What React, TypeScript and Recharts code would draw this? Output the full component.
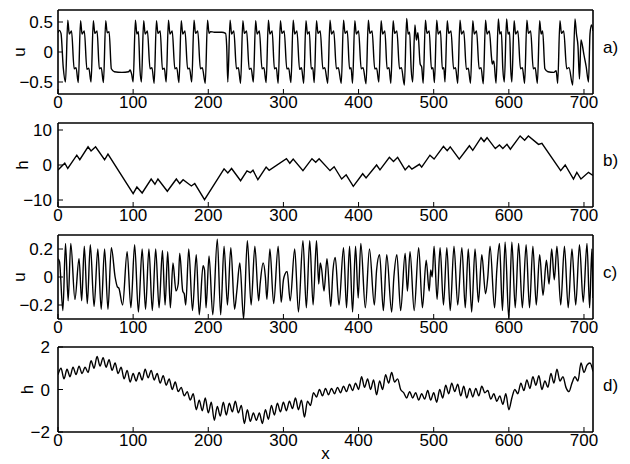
import React from 'react';
import { LineChart, Line, XAxis, YAxis } from 'recharts';

const FONT = '"Liberation Sans", Arial, Helvetica, sans-serif';

const X_TICKS = [0, 100, 200, 300, 400, 500, 600, 700];
const X_DOMAIN: [number, number] = [0, 712];

const A_TICKS = [-0.5, 0, 0.5];
const B_TICKS = [-10, 0, 10];
const C_TICKS = [-0.2, 0, 0.2];
const D_TICKS = [-2, 0, 2];

// panel a) u(x)
const A_POINTS: [number, number][] = [
  [0, 0.32], [2, 0.36], [4, 0.31], [7, -0.26], [10, -0.5],
  [13, 0.53], [15, 0.3], [18, 0.35], [21.5, -0.28], [24, -0.26], [27, -0.51],
  [30, 0.52], [32, 0.3], [35, 0.35], [38.5, -0.29], [41, -0.27], [44, -0.5],
  [47, 0.52], [49, 0.31], [52, 0.35], [55, -0.28], [57.5, -0.26], [60.5, -0.51],
  [63.5, 0.52], [65.5, 0.32], [68, 0.34], [71, -0.28], [75, -0.33], [85, -0.34], [94, -0.33], [96, -0.3], [98, -0.37], [100, -0.5],
  [103, 0.53], [105, 0.3], [107, 0.34], [109, -0.28], [111, -0.5],
  [114, 0.52], [116, 0.3], [119, 0.35], [122.5, -0.28], [125, -0.26], [128, -0.52],
  [131, 0.52], [133, 0.31], [136, 0.35], [139, -0.29], [141.5, -0.27], [144, -0.5],
  [147, 0.53], [149, 0.3], [152, 0.35], [155.5, -0.28], [158, -0.26], [161, -0.51],
  [164, 0.52], [166, 0.3], [169, 0.35], [172.5, -0.28], [175, -0.27], [178, -0.5],
  [181, 0.53], [183, 0.31], [186, 0.35], [189.5, -0.28], [192, -0.26], [196, -0.52],
  [199, 0.53], [201, 0.31], [203, 0.34], [208, 0.33], [218, 0.33], [223, 0.31], [224.5, 0.1], [226, -0.5],
  [229, 0.53], [231, 0.3], [234, 0.35], [237.5, -0.28], [240, -0.26], [243, -0.52],
  [246, 0.52], [248, 0.31], [251, 0.35], [254.5, -0.29], [257, -0.27], [260, -0.5],
  [263, 0.52], [265, 0.3], [268, 0.35], [271.5, -0.28], [274, -0.26], [277, -0.51],
  [280, 0.53], [282, 0.3], [285, 0.35], [288, -0.28], [290.5, -0.26], [293, -0.52],
  [296, 0.52], [298, 0.31], [301, 0.35], [304.5, -0.28], [307, -0.27], [310, -0.51],
  [313, 0.53], [315, 0.3], [318, 0.35], [321.5, -0.29], [324, -0.26], [327, -0.52],
  [330, 0.52], [332, 0.3], [334.5, 0.34], [337, -0.28], [339, -0.26], [341, -0.51],
  [344, 0.52], [346, 0.31], [349, 0.35], [352.5, -0.28], [355, -0.26], [359, -0.52],
  [362, 0.53], [364, 0.3], [367, 0.35], [370.5, -0.28], [373, -0.26], [377, -0.52],
  [380, 0.53], [382, 0.31], [385, 0.35], [388, -0.28], [390, -0.26], [392, -0.52],
  [395, 0.52], [397, 0.3], [400, 0.35], [403.5, -0.28], [406, -0.26], [410, -0.53],
  [413, 0.53], [415, 0.31], [418, 0.35], [421.5, -0.28], [424, -0.27], [427, -0.5],
  [430, 0.52], [432, 0.3], [435, 0.35], [438, -0.28], [440.5, -0.26], [443, -0.52],
  [446, 0.52], [448, 0.31], [451, 0.35], [454.5, -0.28], [457, -0.26], [461, -0.55],
  [464, 0.56], [466, 0.3], [468, 0.33], [470, -0.28], [472, -0.5],
  [475, 0.45], [477, 0.2], [479, 0.32], [482, -0.2], [484, -0.25], [486, -0.52],
  [489, 0.53], [491, 0.31], [494, 0.35], [497, -0.28], [499, -0.26], [501, -0.51],
  [504, 0.53], [506, 0.3], [509, 0.35], [511.5, -0.28], [513.5, -0.26], [515, -0.5],
  [518, 0.52], [520, 0.31], [523, 0.35], [526.5, -0.28], [529, -0.26], [532, -0.52],
  [535, 0.53], [537, 0.3], [540, 0.35], [543.5, -0.29], [546, -0.27], [549, -0.52],
  [552, 0.52], [554, 0.3], [557, 0.35], [560.5, -0.28], [563, -0.26], [566, -0.53],
  [569, 0.53], [571, 0.3], [574, 0.35], [577, -0.1], [578, -0.2], [580, -0.15], [583, -0.52],
  [586, 0.55], [588, 0.3], [590, 0.34], [592, -0.28], [594, -0.5],
  [597, 0.55], [599, 0.3], [601, 0.33], [602.5, -0.28], [604, -0.5],
  [607, 0.52], [609, 0.3], [612, 0.35], [615.5, -0.28], [618, -0.26], [621, -0.52],
  [624, 0.53], [626, 0.31], [629, 0.35], [632.5, -0.28], [635, -0.26], [638, -0.52],
  [641, 0.52], [643, 0.3], [645, 0.35], [648, -0.28], [652, -0.33], [660, -0.34], [663, -0.31], [665, -0.52],
  [668, 0.52], [670, 0.31], [673, 0.35], [677, -0.28], [680, -0.26], [685, -0.55],
  [688, 0.55], [690, 0.3], [692, 0.1], [694, -0.45], [696, 0.2], [698, 0.1], [700, -0.05], [703, -0.25], [706, -0.5], [708, 0.3], [710, 0.45], [712, 0.35],
];

// panel b) h(x)
const B_POINTS: [number, number][] = [
  [0, -1.4], [9, 0.5], [13, -1.0], [25, 2.8], [29, 1.5], [40, 5.2], [44, 4.0], [50, 5.2], [62, 1.5], [66.5, 3.1],
  [100, -8.2], [105, -6.3], [112, -8.0], [124, -4.0], [129, -5.5], [133, -4.0], [145.5, -7.5], [157.5, -4.0],
  [162, -5.3], [166.5, -4.2], [177.5, -6.0], [182, -5.3], [195, -9.9], [221, -1.1], [226, -2.3], [231, -1.0],
  [243, -4.5], [251.5, -1.7], [256, -2.2], [259.5, -1.5], [266, -4.2], [277, -0.6], [281, -1.5], [304, 1.8],
  [308.5, 0.5], [313, 1.7], [326, -1.6], [338, 1.8], [343, 0.8], [347.5, 1.8], [362, -1.6], [367.5, -0.5],
  [377.5, -4.0], [383.5, -2.8], [393, -6.1], [405.5, -2.5], [410, -3.7], [424, 0.0], [428.5, -1.4], [441, 2.2],
  [446.5, 1.0], [452, 2.2], [462, -1.4], [467, -0.2], [471, -1.2], [481, 0.2], [484, -0.6], [495, 2.8],
  [500.5, 1.7], [513, 5.3], [518, 4.1], [522, 5.2], [534, 1.7], [547.5, 5.5], [552, 4.2], [563, 7.8],
  [567, 6.7], [571, 7.8], [582, 4.7], [587.5, 5.7], [592, 4.7], [597.5, 5.9], [602, 4.5], [615, 8.3],
  [621, 7.1], [626, 8.3], [639.5, 5.9], [644, 6.2], [669, -1.6], [675, 0.0], [686, -4.0], [690.5, -2.1],
  [696, -4.0], [706, -2.1], [712, -3.0],
];

// panel c) u(x)
const C_POINTS: [number, number][] = [
  [0, 0.13], [2, 0.11], [6.5, -0.24], [10, 0.24], [13.5, -0.17], [17, 0.24], [22.5, -0.16], [28, 0.13],
  [31.5, -0.17], [35, 0.22], [39, -0.19], [43, 0.23], [48, -0.21], [53, 0.2], [57.5, -0.23], [62, 0.2],
  [66.5, -0.23], [71, 0.21], [76, 0.0], [79, -0.07], [81, -0.08], [86, -0.2], [92, 0.18], [97, -0.22],
  [102, 0.23], [107, -0.25], [112, 0.2], [116.5, -0.23], [121, 0.2], [125.5, -0.24], [130, 0.2], [134.5, -0.22],
  [139, 0.19], [142.5, -0.2], [146, 0.18], [149.5, -0.22], [153, 0.1], [157, -0.1], [160, -0.05], [162, 0.17],
  [166, -0.1], [168, -0.12], [170, -0.2], [174, 0.2], [179, -0.24], [184, 0.16], [188, -0.27], [193, 0.08],
  [195, 0.05], [197, -0.22], [201, 0.15], [206, -0.27], [212, 0.27], [216.5, -0.27], [221, 0.22], [225.5, -0.2],
  [230, 0.21], [235, -0.23], [238, -0.1], [242, 0.1], [247, -0.3], [252, 0.26], [257, -0.2], [262, 0.22],
  [267, -0.17], [269, -0.05], [273, 0.1], [276, 0.0], [278, -0.16], [282, 0.2], [287, -0.19], [293, 0.22],
  [297, -0.18], [300, -0.02], [302, 0.02], [305, 0.04], [309, -0.17], [315, 0.2], [320, -0.25], [326, 0.26],
  [330.5, -0.22], [335, 0.26], [339.5, -0.2], [344, 0.26], [347, -0.05], [349, 0.1], [351, 0.05], [354, -0.1],
  [358, 0.13], [363, -0.21], [366, 0.05], [369, 0.14], [374, -0.2], [380, 0.21], [384, -0.22], [388, 0.22],
  [392, -0.25], [396, 0.22], [399.5, -0.15], [403, 0.24], [409, -0.22], [414.5, 0.2], [421, -0.2], [424, 0.05],
  [428, 0.16], [433, -0.24], [437.5, 0.16], [444, -0.25], [447, 0.0], [451, 0.16], [456, -0.24], [462, 0.17],
  [465, -0.1], [468.5, 0.18], [474, -0.24], [480, 0.21], [485, -0.22], [490, 0.12], [494, -0.1], [496, 0.05],
  [498, 0.0], [500.5, 0.22], [504.5, -0.16], [508.5, 0.21], [513, -0.2], [517.5, 0.21], [522, -0.24], [527, 0.22],
  [532, -0.2], [537.5, 0.21], [542, -0.22], [546, 0.2], [550.5, -0.25], [555, 0.2], [559.5, -0.18], [564, 0.16],
  [569, -0.12], [572, 0.0], [575, 0.22], [581, -0.22], [584, 0.05], [587.5, 0.24], [591.5, -0.24], [595, 0.25],
  [600, -0.3], [604, 0.25], [608.5, -0.22], [613, 0.24], [618, -0.22], [623, 0.23], [627.5, -0.22], [632, 0.22],
  [636.5, -0.2], [641, 0.16], [645.5, -0.13], [650, 0.12], [653.5, -0.05], [657, 0.2], [660.5, -0.02], [664, 0.22],
  [669, -0.2], [674, 0.22], [679, -0.22], [684, 0.2], [689, -0.2], [694, 0.23], [699, -0.18], [704, 0.24],
  [707.5, -0.22], [710.5, 0.2], [712, -0.15],
];

// panel d) h(x), sampled every 4 units of x
const D_STEP = 4;
const D_VALUES = [
  0.7, 1.0, 0.5, 0.95, 0.6, 1.05, 0.7, 1.1, 0.75, 1.05, 0.8, 1.35, 1.0, 1.55, 1.1, 1.5,
  1.05, 1.4, 0.9, 1.25, 0.75, 1.05, 0.5, 0.9, 0.35, 0.75, 0.4, 0.8, 0.45, 0.95, 0.55, 0.9,
  0.45, 0.75, 0.3, 0.65, 0.2, 0.5, 0.0, 0.35, -0.1, 0.1, -0.3, -0.1, -0.5, -0.2, -0.95, -0.5,
  -1.0, -0.4, -1.1, -0.6, -1.45, -0.8, -1.25, -0.6, -1.2, -0.65, -1.05, -0.55, -1.1, -0.75, -1.6, -0.95,
  -1.5, -1.1, -1.45, -1.1, -1.6, -0.95, -1.4, -0.75, -1.2, -0.65, -1.05, -0.6, -1.0, -0.55, -0.9, -0.4,
  -0.95, -0.5, -1.3, -0.55, -0.75, -0.15, -0.35, 0.0, -0.3, 0.05, -0.25, 0.05, -0.2, 0.1, -0.15, 0.15,
  -0.1, 0.25, -0.05, 0.3, 0.0, 0.6, 0.1, 0.5, 0.0, 0.45, -0.25, 0.4, 0.0, 0.7, 0.3, 0.8,
  0.35, 0.5, 0.0, -0.15, -0.4, -0.1, -0.4, -0.15, -0.5, -0.2, -0.45, -0.05, -0.5, -0.15, -0.6, 0.0,
  -0.4, 0.2, -0.2, 0.3, -0.1, 0.25, -0.3, 0.15, -0.4, 0.05, -0.35, 0.05, -0.3, 0.15, -0.15, -0.05,
  -0.45, -0.2, -0.55, -0.3, -0.7, -0.2, -0.95, -0.4, 0.0, -0.2, 0.3, -0.05, 0.45, 0.05, 0.6, 0.2,
  0.65, 0.0, 0.4, 0.1, 0.75, 0.3, 0.95, 0.4, 0.6, 0.1, -0.1, 0.3, 0.6, 0.4, 1.25, 0.8,
  1.15, 1.25, 0.85,
];

const toRows = (pts: [number, number][]) => pts.map(([x, v]) => ({ x, v }));
const A_DATA = toRows(A_POINTS);
const B_DATA = toRows(B_POINTS);
const C_DATA = toRows(C_POINTS);
const D_DATA = D_VALUES.map((v, i) => ({ x: i * D_STEP, v }));

const fmt = (v: number) => String(v).replace('-', '\u2212');

const TOP_H = 10;
const AXIS_LINE = { stroke: '#000', strokeWidth: 1.6 };
const TICK_LINE = { stroke: '#000', strokeWidth: 1 };
const TICK_TEXT = { fill: '#000', fontSize: 17, fontFamily: FONT };

const yLabel = (text: string, baselineX: number) => (props: any) => {
  const vb = props.viewBox || {};
  const cy = (vb.y ?? 0) + (vb.height ?? 0) / 2;
  return (
    <text x={baselineX} y={cy} transform={`rotate(-90 ${baselineX} ${cy})`} textAnchor="middle"
      fontSize={17} fontFamily={FONT} fill="#000">{text}</text>
  );
};

const tagLabel = (text: string) => (props: any) => {
  const vb = props.viewBox || {};
  const cy = (vb.y ?? 0) + (vb.height ?? 0) / 2 + 1;
  const x = (vb.x ?? 593) + 10;
  return (
    <text x={x} y={cy} textAnchor="start" fontSize={17} fontFamily={FONT} fill="#000">{text}</text>
  );
};

type PanelProps = {
  plotTop: number;
  plotH: number;
  bottomH: number;
  data: { x: number; v: number }[];
  yDomain: [number, number];
  yTicks: number[];
  yName: string;
  yNameX: number;
  yTickMargin: number;
  tag: string;
  curve: 'linear' | 'monotone';
  showX?: boolean;
};

function Panel(p: PanelProps) {
  const chartH = TOP_H + p.plotH + p.bottomH;
  return (
    <div style={{ position: 'absolute', left: 0, top: p.plotTop - TOP_H, width: 630, height: chartH }}>
      <LineChart width={630} height={chartH} data={p.data} margin={{ top: 0, right: 0, bottom: 0, left: 0 }}>
        <XAxis xAxisId="b" orientation="bottom" type="number" dataKey="x" domain={X_DOMAIN} ticks={X_TICKS}
          allowDataOverflow interval={0} height={p.bottomH} tickSize={-5} tickMargin={6.5}
          axisLine={AXIS_LINE} tickLine={TICK_LINE} tick={TICK_TEXT}
          label={p.showX ? { value: 'x', position: 'insideBottom', offset: 5, fill: '#000', fontSize: 17, fontFamily: FONT } : undefined} />
        <XAxis xAxisId="t" orientation="top" type="number" dataKey="x" domain={X_DOMAIN} ticks={X_TICKS}
          allowDataOverflow interval={0} height={TOP_H} tickSize={-5} axisLine={AXIS_LINE} tickLine={TICK_LINE} tick={false} />
        <YAxis yAxisId="l" orientation="left" type="number" domain={p.yDomain} ticks={p.yTicks} allowDataOverflow
          interval={0} width={58} tickSize={-5} tickMargin={p.yTickMargin} tickFormatter={fmt}
          axisLine={AXIS_LINE} tickLine={TICK_LINE} tick={TICK_TEXT} label={yLabel(p.yName, p.yNameX)} />
        <YAxis yAxisId="r" orientation="right" type="number" domain={p.yDomain} ticks={p.yTicks} allowDataOverflow
          interval={0} width={37} tickSize={-5} axisLine={AXIS_LINE} tickLine={TICK_LINE} tick={false}
          label={tagLabel(p.tag)} />
        <Line xAxisId="b" yAxisId="l" type={p.curve} dataKey="v" stroke="#000" strokeWidth={1.4} dot={false}
          isAnimationActive={false} />
      </LineChart>
    </div>
  );
}

export default function App() {
  return (
    <div style={{ position: 'absolute', left: 0, top: 0, width: 630, height: 464, background: '#fff' }}>
      <Panel plotTop={10} plotH={84} bottomH={25} data={A_DATA} yDomain={[-0.7, 0.7]} yTicks={A_TICKS}
        yName="u" yNameX={25} yTickMargin={10} tag="a)" curve="monotone" />
      <Panel plotTop={123} plotH={84} bottomH={25} data={B_DATA} yDomain={[-12, 12]} yTicks={B_TICKS}
        yName="h" yNameX={28} yTickMargin={11} tag="b)" curve="linear" />
      <Panel plotTop={235} plotH={84} bottomH={25} data={C_DATA} yDomain={[-0.3, 0.3]} yTicks={C_TICKS}
        yName="u" yNameX={25} yTickMargin={10} tag="c)" curve="monotone" />
      <Panel plotTop={347} plotH={85} bottomH={32} data={D_DATA} yDomain={[-2, 2]} yTicks={D_TICKS}
        yName="h" yNameX={33} yTickMargin={13} tag="d)" curve="monotone" showX />
    </div>
  );
}
